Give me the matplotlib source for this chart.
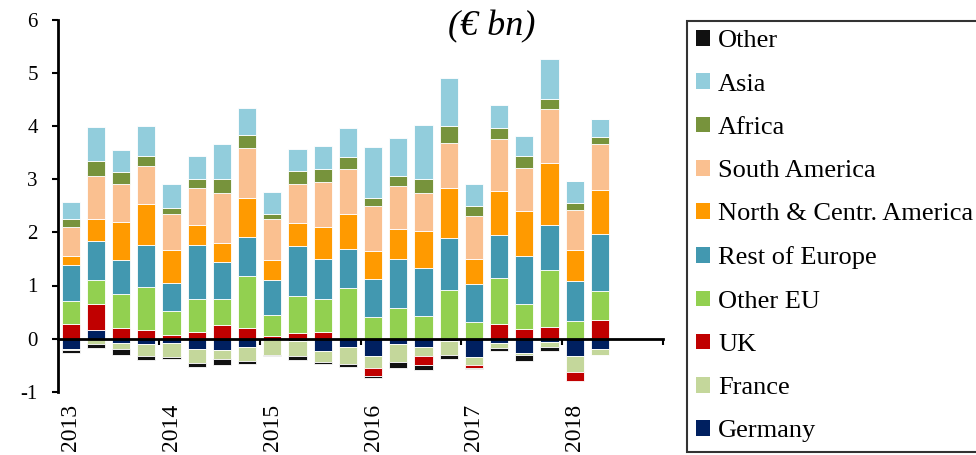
import matplotlib
matplotlib.use("Agg")
import matplotlib.pyplot as plt
from matplotlib.patches import Patch
import numpy as np

quarters = [f"{y} Q{q}" for y in range(2013, 2019) for q in range(1, 5)][:22]
year_labels = ["2013", "2014", "2015", "2016", "2017", "2018"]

germany = [-0.20, 0.17, -0.08, -0.10, -0.09, -0.19, -0.21, -0.15, 0.00, -0.05, -0.24,
           -0.16, -0.32, -0.10, -0.16, -0.04, -0.35, -0.08, -0.28, -0.06, -0.33, -0.19]
france = [-0.02, -0.11, -0.12, -0.23, -0.26, -0.27, -0.18, -0.27, -0.30, -0.28, -0.20,
          -0.31, -0.24, -0.34, -0.17, -0.26, -0.15, -0.10, -0.03, -0.10, -0.30, -0.11]
uk = [0.27, 0.48, 0.20, 0.16, 0.06, 0.12, 0.26, 0.20, 0.04, 0.10, 0.12,
      0.00, -0.15, 0.00, -0.16, 0.00, -0.05, 0.28, 0.18, 0.21, -0.16, 0.35]
other_eu = [0.43, 0.46, 0.64, 0.81, 0.46, 0.62, 0.49, 0.98, 0.40, 0.71, 0.62,
            0.95, 0.40, 0.57, 0.43, 0.91, 0.31, 0.86, 0.48, 1.08, 0.33, 0.54]
rest_europe = [0.68, 0.73, 0.64, 0.80, 0.53, 1.03, 0.70, 0.74, 0.67, 0.94, 0.76,
               0.73, 0.72, 0.93, 0.90, 0.99, 0.71, 0.81, 0.90, 0.85, 0.76, 1.08]
north_america = [0.17, 0.42, 0.72, 0.77, 0.62, 0.37, 0.35, 0.73, 0.37, 0.43, 0.60,
                 0.67, 0.53, 0.57, 0.69, 0.94, 0.48, 0.83, 0.85, 1.17, 0.58, 0.83]
south_america = [0.55, 0.80, 0.72, 0.71, 0.68, 0.70, 0.94, 0.94, 0.77, 0.73, 0.85,
                 0.84, 0.85, 0.81, 0.73, 0.85, 0.81, 0.97, 0.80, 1.02, 0.76, 0.87]
africa = [0.16, 0.29, 0.22, 0.19, 0.11, 0.17, 0.26, 0.25, 0.10, 0.25, 0.24,
          0.23, 0.15, 0.19, 0.25, 0.31, 0.18, 0.22, 0.22, 0.19, 0.12, 0.13]
asia = [0.32, 0.63, 0.41, 0.56, 0.45, 0.42, 0.66, 0.50, 0.42, 0.41, 0.44,
        0.54, 0.95, 0.71, 1.03, 0.90, 0.42, 0.43, 0.39, 0.75, 0.42, 0.34]
other = [-0.05, -0.07, -0.10, -0.07, -0.03, -0.08, -0.10, -0.06, -0.03, -0.07, -0.03,
         -0.07, -0.04, -0.11, -0.11, -0.09, -0.02, -0.06, -0.11, -0.08, 0.00, 0.00]

series_names = ["Germany", "France", "UK", "Other EU", "Rest of Europe",
                "North & Centr. America", "South America", "Africa", "Asia", "Other"]
series_values = [germany, france, uk, other_eu, rest_europe,
                 north_america, south_america, africa, asia, other]
colors = ["#002060", "#C4D79B", "#C00000", "#92D050", "#4298B0",
          "#FF9A00", "#FAC090", "#77933C", "#92CDDC", "#111111"]

serif = "Liberation Serif"

fig = plt.figure(figsize=(9.76, 4.55), dpi=100)
ax = fig.add_axes([58 / 976, 1 - 391.7 / 455, (663 - 58) / 976, (391.7 - 20) / 455])

x = np.arange(len(quarters))
pos_bottom = np.zeros(len(x))
neg_bottom = np.zeros(len(x))
handles = []
for name, vals, col in zip(series_names, series_values, colors):
    v = np.array(vals, dtype=float)
    bottoms = np.where(v >= 0, pos_bottom, neg_bottom)
    ax.bar(x, v, bottom=bottoms, width=0.72, color=col, edgecolor="white",
           linewidth=0.6, zorder=2)
    pos_bottom = pos_bottom + np.where(v > 0, v, 0)
    neg_bottom = neg_bottom + np.where(v < 0, v, 0)
    handles.append(Patch(facecolor=col, edgecolor="none", label=name))

ax.set_xlim(-0.5, 23.5)
ax.set_ylim(-1, 6)
ax.set_yticks(range(-1, 7))
ax.set_yticklabels([str(i) for i in range(-1, 7)], fontfamily=serif, fontsize=15)

for s in ["top", "right"]:
    ax.spines[s].set_visible(False)
ax.spines["left"].set_linewidth(2)
ax.spines["bottom"].set_position(("data", 0))
ax.spines["bottom"].set_linewidth(2)
ax.spines["bottom"].set_zorder(3)

ax.set_xticks(np.arange(0, 22, 4))
ax.set_xticklabels(year_labels, rotation=90, fontfamily=serif, fontsize=17)
ax.set_xticks(np.arange(3.5, 24, 4), minor=True)
ax.tick_params(axis="x", which="major", length=0, pad=47)
ax.tick_params(axis="x", which="minor", length=4, width=1.5, direction="out")
ax.tick_params(axis="y", length=4.5, width=1.5, direction="out", pad=10)

fig.text(492 / 976, 1 - 27 / 455, "(€ bn)", ha="center", va="center",
         fontfamily=serif, fontstyle="italic", fontsize=26)

leg = fig.legend(handles=handles[::-1], loc="upper left",
                 bbox_to_anchor=(687 / 976, 1 - 21 / 455),
                 prop={"family": serif, "size": 19},
                 frameon=True, fancybox=False, edgecolor="black",
                 handlelength=0.53, handleheight=0.53, handletextpad=0.3,
                 labelspacing=0.8, borderpad=0.35, borderaxespad=0)
leg.get_frame().set_linewidth(1.5)

fig.savefig("out.png", dpi=100)
